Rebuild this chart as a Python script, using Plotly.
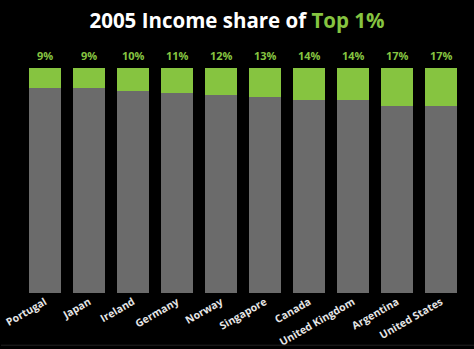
import plotly.graph_objects as go

countries = ["Portugal", "Japan", "Ireland", "Germany", "Norway", "Singapore",
             "Canada", "United Kingdom", "Argentina", "United States"]
top1_share = [9, 9, 10, 11, 12, 13, 14, 14, 17, 17]
rest_share = [100 - v for v in top1_share]
labels = [f"{v}%" for v in top1_share]

GREEN = "#86c440"
GRAY = "#6b6b6b"

fig = go.Figure()
fig.add_trace(go.Bar(x=countries, y=rest_share, marker=dict(color=GRAY, line=dict(width=0)),
                     hoverinfo="skip"))
fig.add_trace(go.Bar(x=countries, y=top1_share, marker=dict(color=GREEN, line=dict(width=0)),
                     hoverinfo="skip"))

for c, lab in zip(countries, labels):
    fig.add_annotation(x=c, y=100, text=f"<b>{lab}</b>", showarrow=False,
                       yanchor="bottom", yshift=3,
                       font=dict(family="Open Sans", size=11, color=GREEN))

fig.update_layout(
    width=474, height=349,
    barmode="stack", bargap=0.27,
    paper_bgcolor="black", plot_bgcolor="black",
    showlegend=False,
    margin=dict(l=23, r=11, t=68, b=56),
    title=dict(text="<b>2005 Income share of <span style='color:#86c440'>Top 1%</span></b>",
               x=0.5, xanchor="center", y=0.94, yanchor="middle",
               font=dict(family="Open Sans", size=20.5, color="white")),
    xaxis=dict(tickangle=-30, showgrid=False, zeroline=False, showline=False,
               tickfont=dict(family="Open Sans", size=10.5, color="#e6e6e6"),
               ticks="", fixedrange=True, automargin=False),
    yaxis=dict(range=[0, 100], visible=False, showgrid=False, fixedrange=True,
               automargin=False),
    font=dict(family="Open Sans", color="white"),
)
fig.update_xaxes(tickprefix="<b>", ticksuffix="</b>")
fig.add_shape(type="line", xref="paper", yref="paper", x0=-0.05, x1=1.025, y0=-0.232, y1=-0.232,
              line=dict(color="#222222", width=1))

fig.write_html("out.html")
